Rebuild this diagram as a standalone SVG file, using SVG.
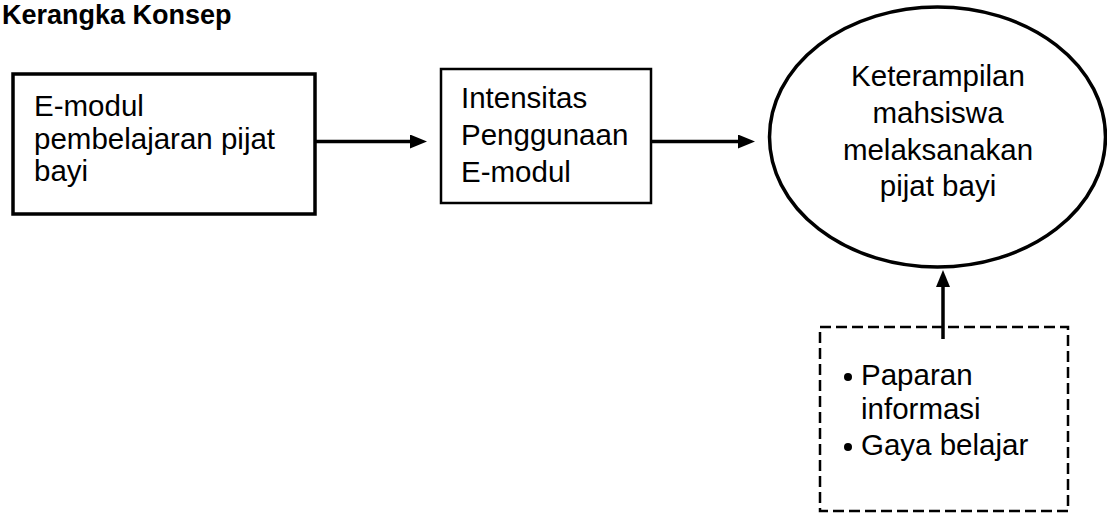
<svg xmlns="http://www.w3.org/2000/svg" width="1107" height="514" viewBox="0 0 1107 514">
<style>
  text { font-family: "Liberation Sans", Arial, sans-serif; font-size: 29.5px; fill: #000; }
  .title { font-weight: bold; font-size: 27px; }
  .box { fill: #fff; stroke: #000; }
  .conn { stroke: #000; stroke-width: 3.5; fill: none; }
  .mid { text-anchor: middle; }
</style>
<defs>
  <marker id="arr" markerUnits="userSpaceOnUse" markerWidth="17" markerHeight="14" refX="0" refY="7" orient="auto">
    <path d="M0,0 L17,7 L0,14 Z" fill="#000"/>
  </marker>
</defs>
<rect width="1107" height="514" fill="#fff"/>
<text class="title" x="2" y="24">Kerangka Konsep</text>

<g id="connectors">
  <line class="conn" x1="315" y1="141.5" x2="410" y2="141.5" marker-end="url(#arr)"/>
  <line class="conn" x1="651" y1="141.5" x2="738" y2="141.5" marker-end="url(#arr)"/>
  <line class="conn" x1="943" y1="339" x2="943" y2="287" marker-end="url(#arr)"/>
</g>

<g id="node-emodul">
  <rect class="box" x="13" y="74" width="302" height="140" stroke-width="3.5"/>
  <text x="34" y="116">E-modul</text>
  <text x="34" y="149">pembelajaran pijat</text>
  <text x="34" y="181">bayi</text>
</g>

<g id="node-intensitas">
  <rect class="box" x="441" y="69" width="210" height="134" stroke-width="2.5"/>
  <text x="461" y="108">Intensitas</text>
  <text x="461" y="145">Penggunaan</text>
  <text x="461" y="182">E-modul</text>
</g>

<g id="node-keterampilan">
  <ellipse class="box" cx="937.5" cy="137" rx="168" ry="130" stroke-width="3.5"/>
  <text class="mid" x="938" y="86">Keterampilan</text>
  <text class="mid" x="938" y="123">mahsiswa</text>
  <text class="mid" x="938" y="160">melaksanakan</text>
  <text class="mid" x="938" y="196">pijat bayi</text>
</g>

<g id="node-faktor">
  <rect x="820" y="327" width="248" height="184" fill="none" stroke="#000" stroke-width="2.5" stroke-dasharray="11 5"/>
  <circle cx="848" cy="377" r="4" fill="#000"/>
  <text x="861" y="385">Paparan</text>
  <text x="861" y="419">informasi</text>
  <circle cx="848" cy="447" r="4" fill="#000"/>
  <text x="861" y="455">Gaya belajar</text>
</g>
</svg>
